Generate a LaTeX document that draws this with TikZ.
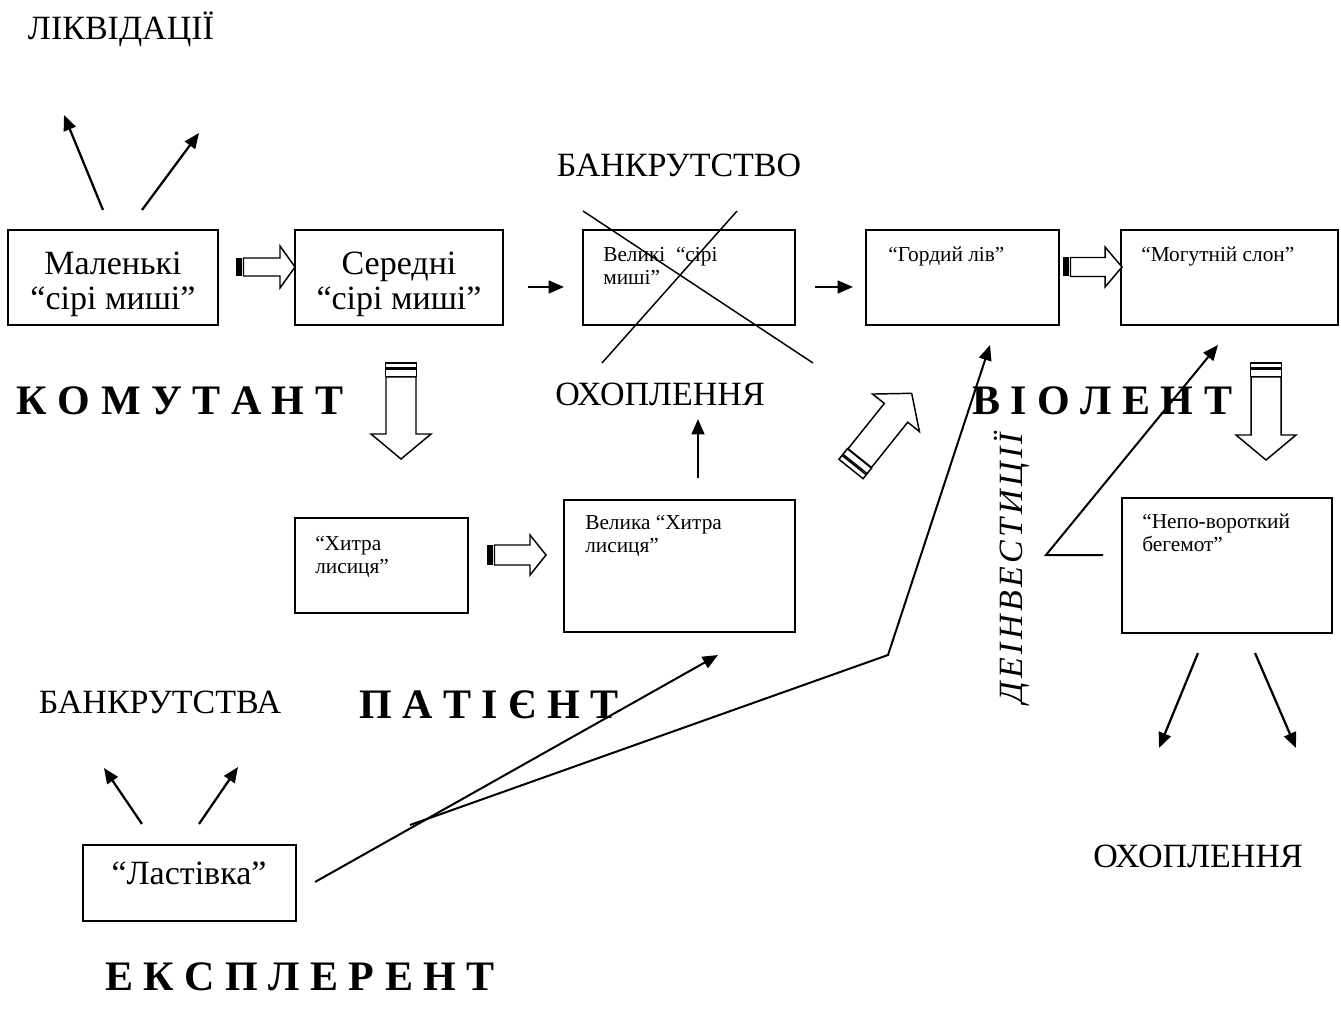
\documentclass[tikz,border=0pt]{standalone}
\usepackage{fontspec}
\setmainfont{Liberation Serif}
\newfontfamily\widefont[LetterSpace=10]{Liberation Serif}
\usetikzlibrary{arrows.meta,fit}

\newcommand\bigtxt{\fontsize{25.5}{26}\selectfont}
\newcommand\smalltxt{\fontsize{16}{17}\selectfont}
\newcommand\spacedtxt{\fontsize{31.5}{33}\selectfont\bfseries}

% hollow block arrow: #1 tail point, #2 angle, #3 length, #4 shaft half width,
% #5 head half width, #6 head length, #7 shaft start, #8 stripe code at the tail
\newcommand\BlkArrow[8]{%
  \begin{scope}[shift={#1}, rotate=#2]
    #8
    \draw[blk] (#7,-#4) -- ({#3-#6},-#4) -- ({#3-#6},-#5) -- (#3,0)
      -- ({#3-#6},#5) -- ({#3-#6},#4) -- (#7,#4) -- cycle;
  \end{scope}}

\tikzset{
  box/.style={draw, line width=1.2pt, inner sep=0pt},
  arr/.style={line width=1.7pt, -{Triangle[length=11.5pt,width=9.5pt]}},
  crossline/.style={line width=1.1pt},
  blk/.style={draw, line width=1.1pt, fill=white, line join=miter},
  big/.style={font=\bigtxt, inner sep=0pt},
  small/.style={font=\smalltxt, inner sep=0pt, align=left},
  typetxt/.style={font=\spacedtxt, inner sep=0pt},
}

\begin{document}
\begin{tikzpicture}[x=0.75pt, y=-0.75pt]
\useasboundingbox (0,0) rectangle (1341,1012);

% ---- boxes ----
\node[box, fit={(8,230) (218,325)}] (mal) {};
\node[box, fit={(295,230) (503,325)}] (ser) {};
\node[box, fit={(583,230) (795,325)}] (vsm) {};
\node[box, fit={(866,230) (1059,325)}] (gor) {};
\node[box, fit={(1121,230) (1338,325)}] (mog) {};
\node[box, fit={(295,518) (468,613)}] (hyt) {};
\node[box, fit={(564,500) (795,632)}] (vhl) {};
\node[box, fit={(1122,498) (1332,633)}] (nep) {};
\node[box, fit={(83,845) (296,921)}] (las) {};

% ---- texts in the boxes ----
\node[big, align=center, yshift=-5pt] (malt) at (mal.center) {Маленькі\\“сірі миші”};
\node[big, align=center, yshift=-5pt] (sert) at (ser.center) {Середні\\“сірі миші”};
\node[small, anchor=north west] (vsmt) at (603,247) {Великі \ “сірі\\миші”};
\node[small, anchor=north west] (gort) at (888,247) {“Гордий лів”};
\node[small, anchor=north west] (mogt) at (1141,247) {“Могутній слон”};
\node[small, anchor=north west] (hytt) at (315,536) {“Хитра\\лисиця”};
\node[small, anchor=north west] (vhlt) at (585,515) {Велика “Хитра\\лисиця”};
\node[small, anchor=north west] (nept) at (1142,514) {“Непо-вороткий\\бегемот”};
\node[big, anchor=base] (last) at (189,884) {“Ластівка”};

% ---- free labels ----
\node[big, anchor=base] (likv) at (121,40) {ЛІКВІДАЦІЇ};
\node[big, anchor=base] (bankr1) at (679,177) {БАНКРУТСТВО};
\node[big, anchor=base] (ohop1) at (660,405) {ОХОПЛЕННЯ};
\node[big, anchor=base] (ohop2) at (1198,867) {ОХОПЛЕННЯ};
\node[big, anchor=base] (bankr2) at (160,713) {БАНКРУТСТВА};
\node[inner sep=0pt, anchor=base, rotate=90, font=\fontsize{25.5}{26}\widefont\itshape] (dein) at (1022,568) {ДЕІНВЕСТИЦІЇ};

\node[typetxt, anchor=base] (komu) at (180,414) {К О М У Т А Н Т};
\node[typetxt, anchor=base] (viol) at (1102,414) {В І О Л Е Н Т};
\node[typetxt, anchor=base] (pati) at (489,718) {П А Т І Є Н Т};
\node[typetxt, anchor=base] (ekspl) at (300,990) {Е К С П Л Е Р Е Н Т};

% ---- free ends of the connectors ----
\coordinate (m1s) at (103,210);  \coordinate (m1e) at (64,115);
\coordinate (m2s) at (142,210);  \coordinate (m2e) at (199,133);
\coordinate (s1s) at (528,287);  \coordinate (s1e) at (564,287);
\coordinate (v1s) at (815,287);  \coordinate (v1e) at (853,287);
\coordinate (o1s) at (698,478);  \coordinate (o1e) at (698,419);
\coordinate (l1s) at (142,824);  \coordinate (l1e) at (104,768);
\coordinate (l2s) at (199,824);  \coordinate (l2e) at (238,767);
\coordinate (n1s) at (1198,653); \coordinate (n1e) at (1159,748);
\coordinate (n2s) at (1255,653); \coordinate (n2e) at (1296,748);
\coordinate (lout) at (315,882); \coordinate (vhlin) at (718,655);
\coordinate (brs) at (410,825);  \coordinate (brk) at (888,655);
\coordinate (gorin) at (990,345);
\coordinate (nepout) at (1103,555); \coordinate (dcor) at (1046,555);
\coordinate (mogin) at (1218,345);

% ---- thin arrows ----
\draw[arr] (m1s) -- (m1e);
\draw[arr] (m2s) -- (m2e);
\draw[arr] (s1s) -- (s1e);
\draw[arr] (v1s) -- (v1e);
\draw[arr] (o1s) -- (o1e);
\draw[arr] (l1s) -- (l1e);
\draw[arr] (l2s) -- (l2e);
\draw[arr] (n1s) -- (n1e);
\draw[arr] (n2s) -- (n2e);
\draw[arr, line width=1.5pt] (lout) -- (vhlin);
\draw[arr, line width=1.5pt] (brs) -- (brk) -- (gorin);
\draw[arr, line width=1.5pt] (nepout) -- (dcor) -- (mogin);

% ---- crossed-out box ----
\draw[crossline] (583,211) -- (813,363);
\draw[crossline] (737,211) -- (602,363);

% ---- hollow block arrows ----
\BlkArrow{(236,267)}{0}{59}{9}{21}{15}{7.5}{\fill (0,-9) rectangle (5.5,9);}
\BlkArrow{(487,555)}{0}{59}{10}{20}{16}{7.5}{\fill (0,-10) rectangle (5.5,10);}
\BlkArrow{(1063,267)}{0}{59}{9.5}{20}{17}{7.5}{\fill (0,-9.5) rectangle (5.5,9.5);}
\BlkArrow{(401,363)}{-90}{96}{15}{30}{25}{14}{\draw[blk] (0,-15.5) rectangle (5,15.5); \draw[blk] (6.5,-15.5) rectangle (13.5,15.5);}
\BlkArrow{(1266,363)}{-90}{97}{15}{30}{25}{14}{\draw[blk] (0,-15.5) rectangle (5,15.5); \draw[blk] (6.5,-15.5) rectangle (13.5,15.5);}
\BlkArrow{(851,469)}{51.3}{97}{15}{30}{25}{14}{\draw[blk] (0,-15.5) rectangle (5,15.5); \draw[blk] (6.5,-15.5) rectangle (13.5,15.5);}

\end{tikzpicture}
\end{document}
